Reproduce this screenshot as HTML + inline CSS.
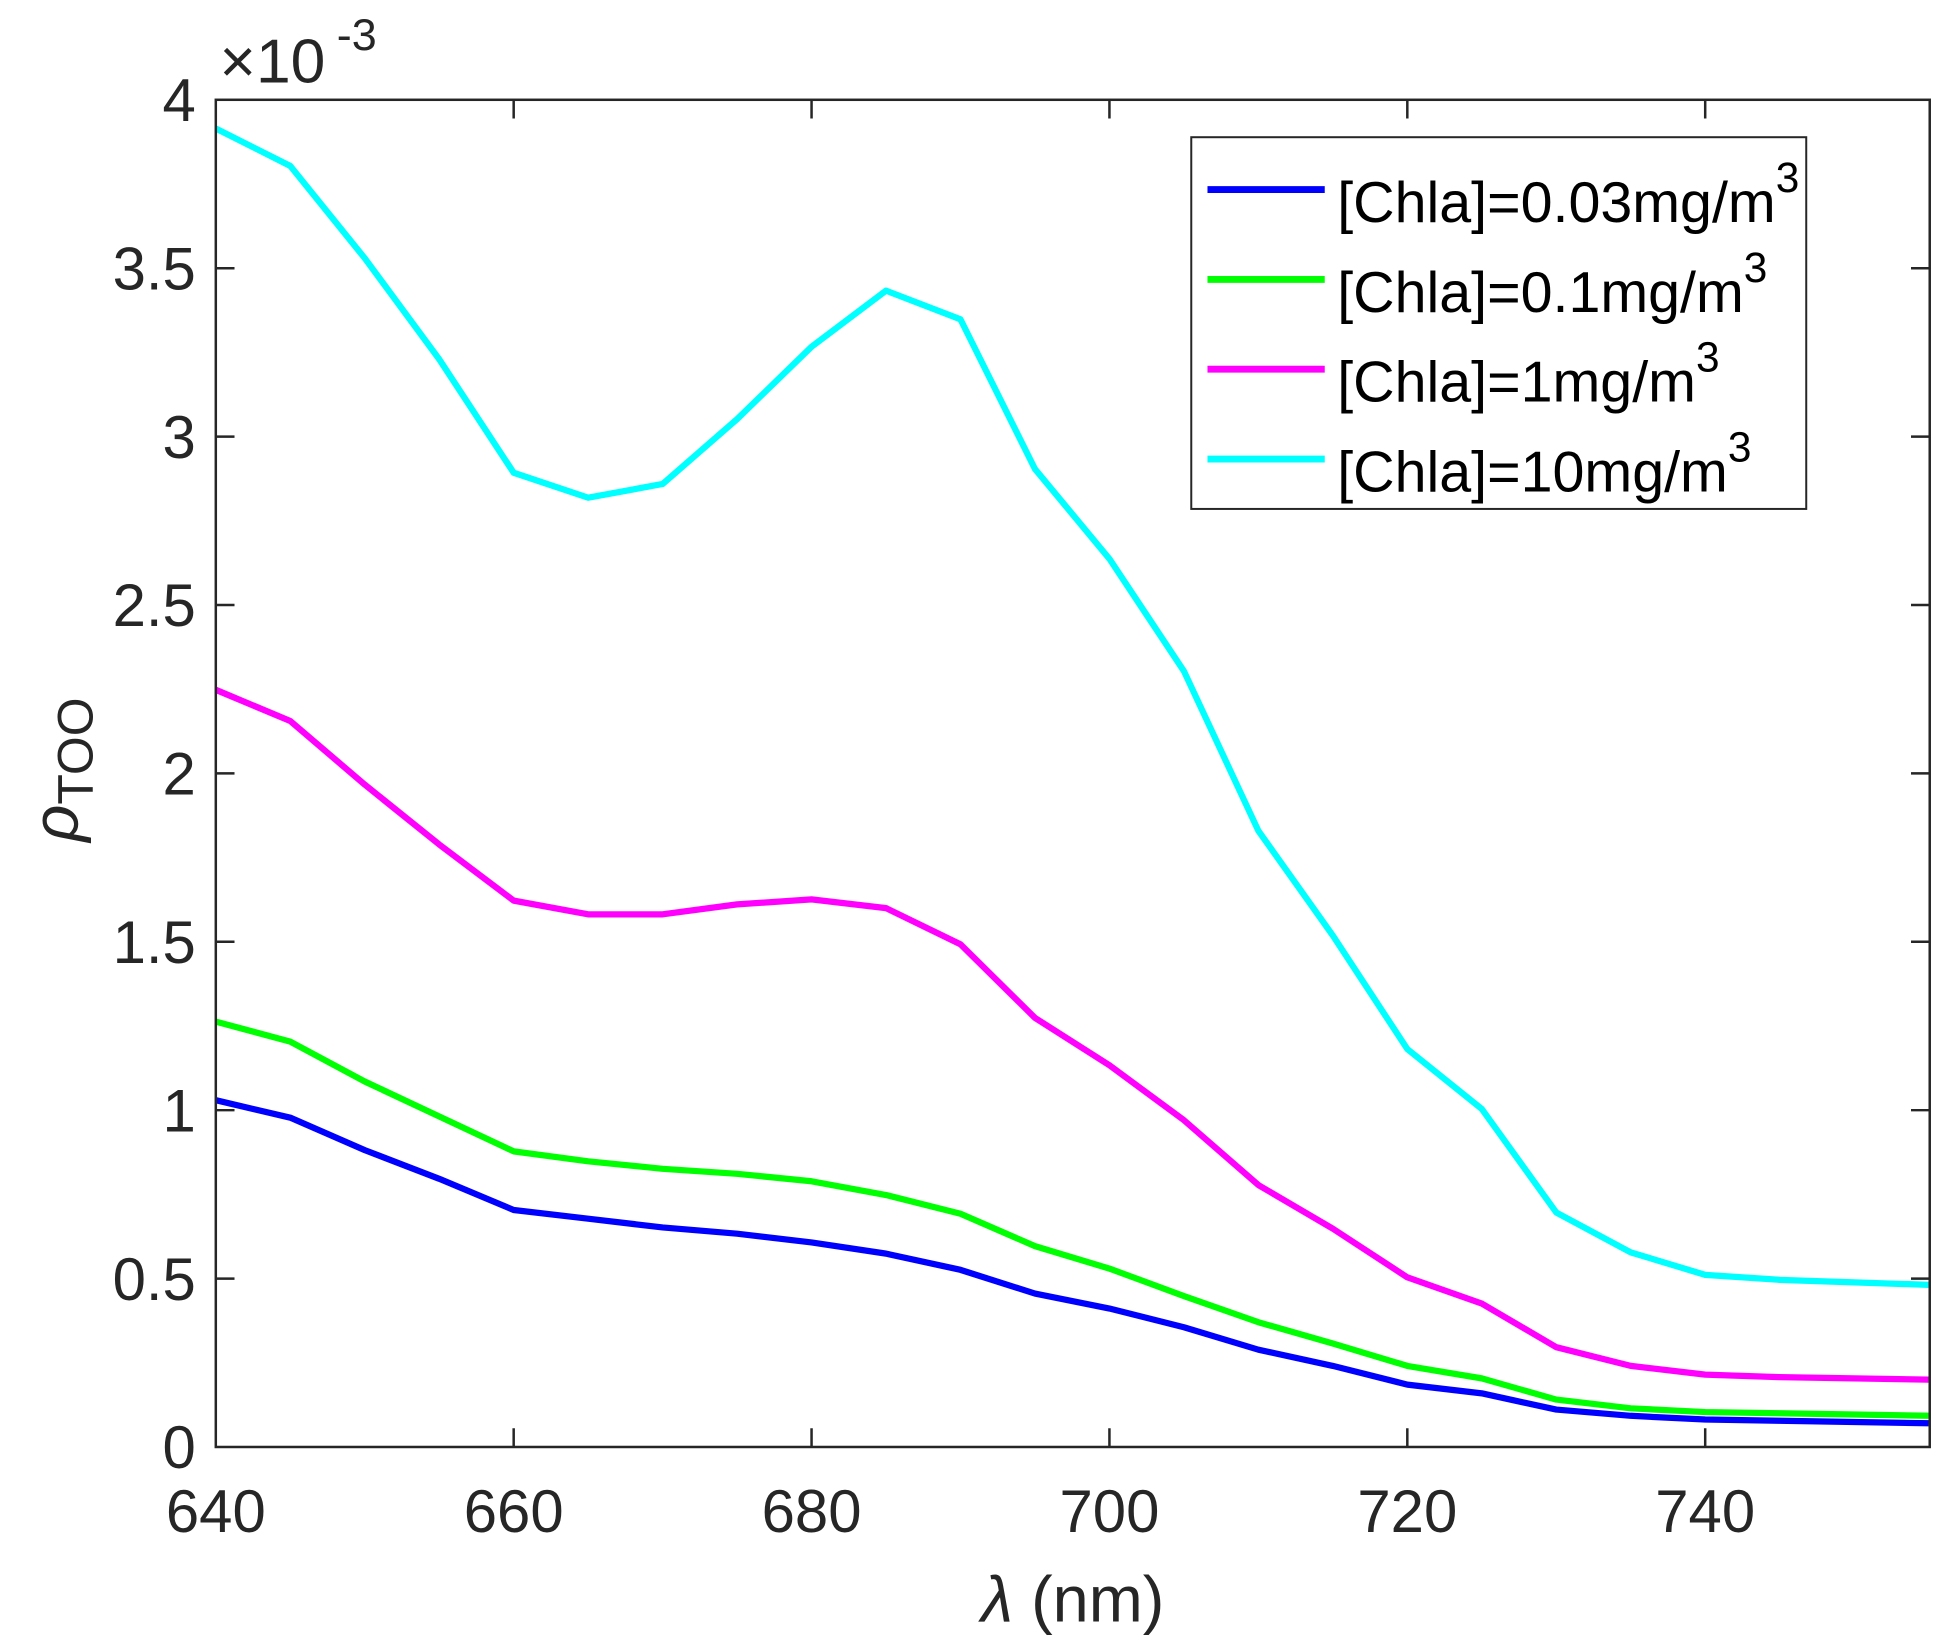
<!DOCTYPE html>
<html><head><meta charset="utf-8"><style>html,body{margin:0;padding:0;background:#fff}svg{display:block}</style></head>
<body>
<svg width="1956" height="1651" viewBox="0 0 1956 1651" xmlns="http://www.w3.org/2000/svg" font-family="Liberation Sans, sans-serif">
<rect width="1956" height="1651" fill="#fff"/>
<g transform="scale(1.2474)">
<g fill="none" stroke-width="5" stroke-linejoin="round">
<polyline stroke="#0000ff" points="173,882 232.7,896 292.4,922 352.1,945 411.8,970 471.5,977 531.2,984 590.9,989 650.6,996 710.3,1005 770,1018 829.7,1037 889.4,1049 949.1,1064 1008.8,1082 1068.5,1095 1128.2,1110 1187.9,1117 1247.6,1130 1307.3,1135 1367,1138 1426.7,1139 1486.4,1140 1546,1141"/>
<polyline stroke="#00ff00" points="173,819 232.7,835 292.4,867 352.1,895 411.8,923 471.5,931 531.2,937 590.9,941 650.6,947 710.3,958 770,973 829.7,999 889.4,1017 949.1,1039 1008.8,1060 1068.5,1077 1128.2,1095 1187.9,1105 1247.6,1122 1307.3,1129 1367,1132 1426.7,1133 1486.4,1134 1546,1135"/>
<polyline stroke="#ff00ff" points="173,553 232.7,578 292.4,629 352.1,677 411.8,722 471.5,733 531.2,733 590.9,725 650.6,721 710.3,728 770,757 829.7,816 889.4,854 949.1,898 1008.8,950 1068.5,985 1128.2,1024 1187.9,1045 1247.6,1080 1307.3,1095 1367,1102 1426.7,1104 1486.4,1105 1546,1106"/>
<polyline stroke="#00ffff" points="173,103 232.7,133 292.4,207 352.1,288 411.8,379 471.5,399 531.2,388 590.9,336 650.6,278 710.3,233 770,256 829.7,376 889.4,448 949.1,538 1008.8,666 1068.5,750 1128.2,841 1187.9,889 1247.6,972 1307.3,1004 1367,1022 1426.7,1026 1486.4,1028 1546,1030"/>
</g>
<g stroke="#262626" stroke-width="2" fill="none">
<rect x="173" y="80" width="1374" height="1080"/>
<path d="M411.8,1160v-15M650.6,1160v-15M889.4,1160v-15M1128.2,1160v-15M1367,1160v-15M411.8,80v15M650.6,80v15M889.4,80v15M1128.2,80v15M1367,80v15"/>
<path d="M173,1025h15M173,890h15M173,755h15M173,620h15M173,485h15M173,350h15M173,215h15M1547,1025h-15M1547,890h-15M1547,755h-15M1547,620h-15M1547,485h-15M1547,350h-15M1547,215h-15"/>
</g>
<g fill="#262626" font-size="48" text-anchor="end">
<text x="157" y="1177">0</text><text x="157" y="1042">0.5</text><text x="157" y="907">1</text><text x="157" y="772">1.5</text><text x="157" y="637">2</text><text x="157" y="502">2.5</text><text x="157" y="367">3</text><text x="157" y="232">3.5</text><text x="157" y="97">4</text>
</g>
<g fill="#262626" font-size="48" text-anchor="middle">
<text x="173" y="1228">640</text><text x="411.8" y="1228">660</text><text x="650.6" y="1228">680</text><text x="889.4" y="1228">700</text><text x="1128.2" y="1228">720</text><text x="1367" y="1228">740</text>
<text x="860" y="1300" font-size="52"><tspan font-style="italic">λ</tspan> (nm)</text>
</g>
<text x="176" y="66" fill="#262626" font-size="50">×10</text>
<text x="270" y="40" fill="#262626" font-size="36">-3</text>
<text transform="translate(62,617) rotate(-90)" text-anchor="middle" fill="#262626" font-size="52"><tspan font-style="italic">ρ</tspan><tspan font-size="40" dy="12">TOO</tspan></text>
<rect x="955" y="110" width="493" height="298" fill="#fff" stroke="#262626" stroke-width="1.6"/>
<g stroke-width="5.5"><path d="M968,152h94" stroke="#0000ff"/><path d="M968,224h94" stroke="#00ff00"/><path d="M968,296h94" stroke="#ff00ff"/><path d="M968,368h94" stroke="#00ffff"/></g>
<g fill="#000" font-size="46">
<text x="1072" y="178">[Chla]=0.03mg/m<tspan font-size="34" dy="-24">3</tspan></text>
<text x="1072" y="250">[Chla]=0.1mg/m<tspan font-size="34" dy="-24">3</tspan></text>
<text x="1072" y="322">[Chla]=1mg/m<tspan font-size="34" dy="-24">3</tspan></text>
<text x="1072" y="394">[Chla]=10mg/m<tspan font-size="34" dy="-24">3</tspan></text>
</g>
</g>
</svg>
</body></html>
